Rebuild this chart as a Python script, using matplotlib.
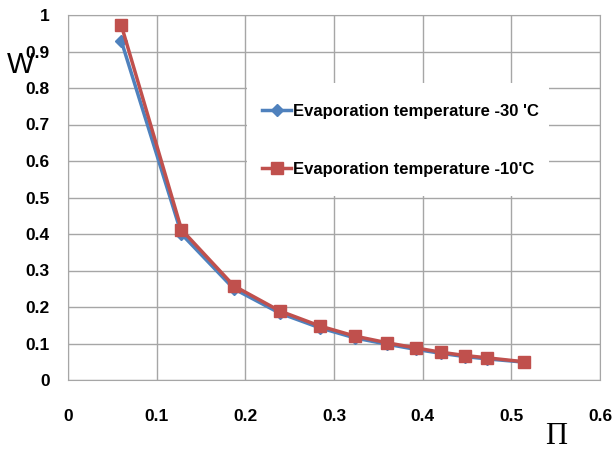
"""
W versus pressure ratio for two evaporation temperatures
"""

import matplotlib.pyplot as plt
from matplotlib.patches import Rectangle

# Pressure ratio values (x) and W for the two evaporation temperatures
pi_values = [0.060, 0.128, 0.187, 0.239, 0.284, 0.324,
             0.360, 0.392, 0.421, 0.448, 0.472, 0.514]
w_minus30 = [0.930, 0.400, 0.250, 0.183, 0.143, 0.115,
             0.098, 0.084, 0.073, 0.064, 0.058, 0.049]
w_minus10 = [0.973, 0.412, 0.258, 0.189, 0.148, 0.120,
             0.102, 0.088, 0.076, 0.067, 0.061, 0.050]
labels = ["Evaporation temperature -30 'C", "Evaporation temperature -10'C"]
x_ticks = [0, 0.1, 0.2, 0.3, 0.4, 0.5, 0.6]
y_ticks = [0, 0.1, 0.2, 0.3, 0.4, 0.5, 0.6, 0.7, 0.8, 0.9, 1]

plt.rcParams['font.family'] = ['Liberation Sans', 'DejaVu Sans']

fig = plt.figure(figsize=(6.15, 4.5), dpi=100)
ax = fig.add_axes([68 / 615, 70 / 450, 532 / 615, 365 / 450])

grid_col = '#a6a6a6'
ax.set_xlim(0, 0.6)
ax.set_ylim(0, 1)
ax.set_xticks(x_ticks)
ax.set_yticks(y_ticks)
ax.set_xticklabels([f'{t:g}' for t in x_ticks])
ax.set_yticklabels([f'{t:g}' for t in y_ticks])
ax.grid(True, color=grid_col, linewidth=1)
ax.set_axisbelow(True)
for s in ax.spines.values():
    s.set_color(grid_col)
ax.tick_params(length=0, labelsize=12.5)
ax.tick_params(axis='y', pad=13)
ax.tick_params(axis='x', pad=21)
for lbl in ax.get_xticklabels() + ax.get_yticklabels():
    lbl.set_fontweight('bold')

# White box behind the legend hides the grid there
ax.add_patch(Rectangle((0.336, 0.505), 0.569, 0.31, transform=ax.transAxes,
                       facecolor='white', edgecolor='none', zorder=1))

ax.plot(pi_values, w_minus30, color='#4f81bd', linewidth=2.5,
        marker='D', markersize=6, label=labels[0], zorder=3)
ax.plot(pi_values, w_minus10, color='#c0504d', linewidth=2.5,
        marker='s', markersize=9, label=labels[1], zorder=3)

ax.legend(loc='upper left', bbox_to_anchor=(0.365, 0.756), frameon=False,
          borderpad=0, borderaxespad=0, handlelength=1.75, handletextpad=0.1,
          labelspacing=2.55, prop={'size': 12, 'weight': 'bold'})

fig.text(21 / 615, 1 - 65 / 450, 'W', fontsize=21, ha='center', va='center')
fig.text(556 / 615, 1 - 436 / 450, 'Π', fontsize=22, ha='center', va='center',
         family='Liberation Serif')

fig.savefig('out.png', dpi=100)
